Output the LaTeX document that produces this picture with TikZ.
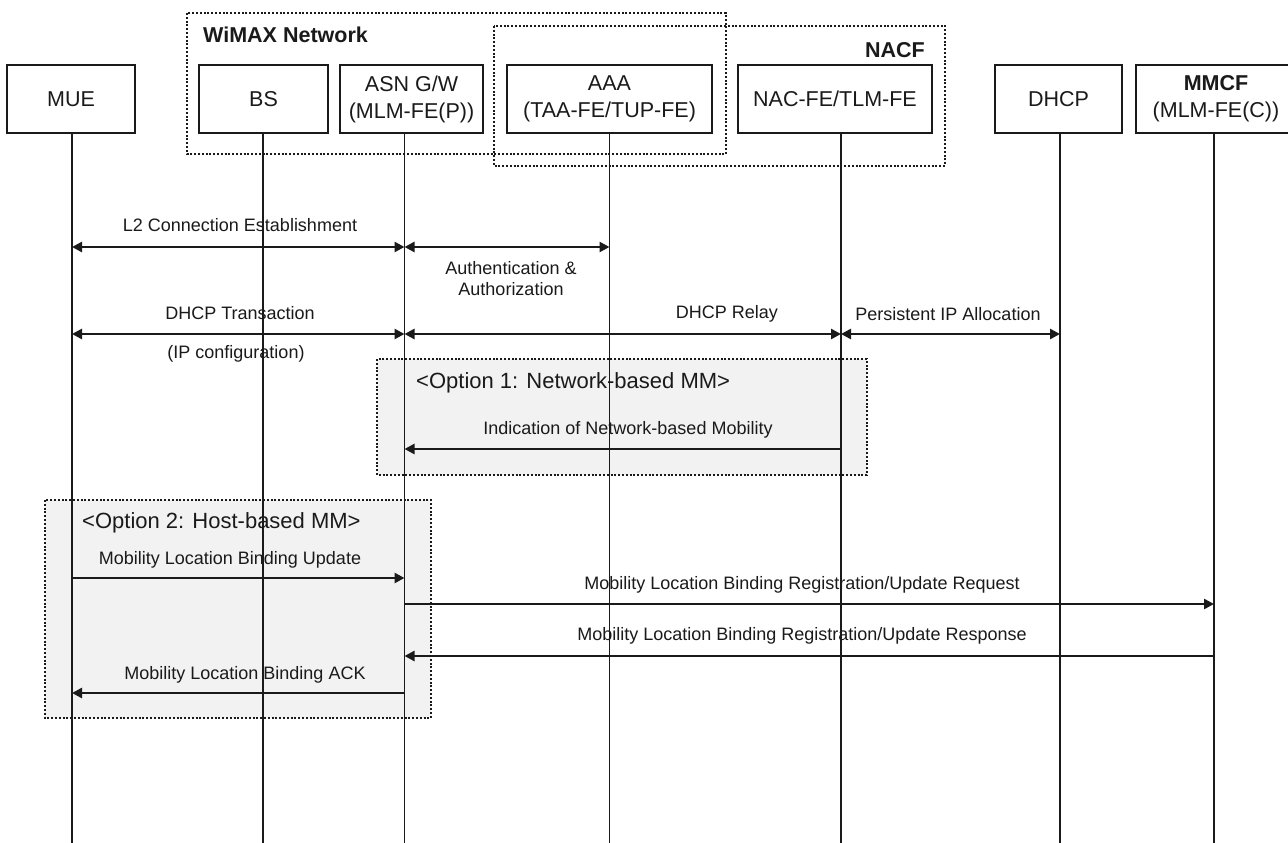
\documentclass[tikz,border=0pt]{standalone}
\usepackage{fontspec}
\setmainfont{Liberation Sans}
\usetikzlibrary{arrows.meta}
\definecolor{ink}{HTML}{1A1A1A}
\definecolor{optgray}{HTML}{F2F2F2}
\begin{document}
\begin{tikzpicture}[x=1pt,y=-1pt,
  every node/.style={text=ink, inner sep=0pt},
  actor/.style={draw=ink, line width=1.5pt, fill=white, minimum height=68pt,
    align=center, font=\fontsize{21.5}{27}\selectfont},
  lifeline/.style={draw=ink, line width=1.4pt},
  msg/.style={draw=ink, line width=2.6pt, -{Triangle[length=10pt,width=10pt]}},
  bimsg/.style={draw=ink, line width=2.6pt,
    {Triangle[length=10pt,width=10pt]}-{Triangle[length=10pt,width=10pt]}},
  msgtext/.style={font=\fontsize{18}{21}\selectfont, align=center},
  netgroup/.style={draw=ink, line width=2.6pt, dash pattern=on 2pt off 1.8pt},
  optbox/.style={netgroup, fill=optgray},
  heading/.style={font=\fontsize{22}{26}\selectfont, anchor=west},
  grouptitle/.style={font=\bfseries\fontsize{21.5}{26}\selectfont},
]
% canvas
\useasboundingbox (0,0) rectangle (1288,843);
\fill[white] (0,0) rectangle (1288,843);
\clip (0,0) rectangle (1288,843);

% shaded option frames (behind the lifelines)
\draw[optbox] (377,359) rectangle (867,475);
\draw[optbox] (45,500) rectangle (431,718);

% network groupings
\draw[netgroup] (187,13) rectangle (726,154);
\draw[netgroup] (494,26) rectangle (945,166);
\node[grouptitle, anchor=west] (wimax) at (203,35) {WiMAX Network};
\node[grouptitle, anchor=east] (nacf) at (925,50) {NACF};

% entities
\node[actor, minimum width=128pt] (mue)  at (71,99)    {MUE};
\node[actor, minimum width=129pt] (bs)   at (263.5,99) {BS};
\node[actor, minimum width=143pt] (asn)  at (411.5,99) {ASN G/W\\(MLM-FE(P))};
\node[actor, minimum width=205pt] (aaa)  at (609.5,99) {AAA\\(TAA-FE/TUP-FE)};
\node[actor, minimum width=194pt] (nac)  at (835,99)   {NAC-FE/TLM-FE};
\node[actor, minimum width=127pt] (dhcp) at (1058.5,99) {DHCP};
\node[actor, minimum width=160pt] (mmcf) at (1216,99)  {\textbf{MMCF}\\(MLM-FE(C))};

% lifeline feet
\coordinate (lMUE)  at (72,843);
\coordinate (lBS)   at (263,843);
\coordinate (lASN)  at (404.5,843);
\coordinate (lAAA)  at (609.5,843);
\coordinate (lNAC)  at (841,843);
\coordinate (lDHCP) at (1060,843);
\coordinate (lMMCF) at (1214,843);

\draw[lifeline] (mue.south -| lMUE) -- (lMUE);
\draw[lifeline] (bs.south -| lBS) -- (lBS);
\draw[lifeline] (asn.south -| lASN) -- (lASN);
\draw[lifeline] (aaa.south -| lAAA) -- (lAAA);
\draw[lifeline] (nac.south -| lNAC) -- (lNAC);
\draw[lifeline] (dhcp.south -| lDHCP) -- (lDHCP);
\draw[lifeline] (mmcf.south -| lMMCF) -- (lMMCF);

% message rows
\coordinate (r1) at (0,247);
\coordinate (r2) at (0,334);
\coordinate (r3) at (0,449);
\coordinate (r4) at (0,578);
\coordinate (r5) at (0,604);
\coordinate (r6) at (0,656);
\coordinate (r7) at (0,693);

% attachment
\draw[bimsg] (lMUE |- r1) -- (lASN |- r1);
\node[msgtext] (t1) at (240,225) {L2 Connection Establishment};
\draw[bimsg] (lASN |- r1) -- (lAAA |- r1);
\node[msgtext] (t2) at (511,279) {Authentication \&\\Authorization};

% address configuration
\draw[bimsg] (lMUE |- r2) -- (lASN |- r2);
\node[msgtext] (t3) at (240,313) {DHCP Transaction};
\node[msgtext] (t4) at (236,354) {(IP configuration)};
\draw[bimsg] (lASN |- r2) -- (lNAC |- r2);
\node[msgtext] (t5) at (727,314) {DHCP Relay};
\draw[bimsg] (lNAC |- r2) -- (lDHCP |- r2);
\node[msgtext] (t6) at (948,314) {Persistent IP Allocation};

% option 1
\node[heading] (h1) at (416,383) {<Option 1: Network-based MM>};
\draw[msg] (lNAC |- r3) -- (lASN |- r3);
\node[msgtext] (t7) at (628,430) {Indication of Network-based Mobility};

% option 2
\node[heading] (h2) at (82,523) {<Option 2: Host-based MM>};
\draw[msg] (lMUE |- r4) -- (lASN |- r4);
\node[msgtext] (t8) at (230,560) {Mobility Location Binding Update};
\draw[msg] (lASN |- r5) -- (lMMCF |- r5);
\node[msgtext] (t9) at (802,585) {Mobility Location Binding Registration/Update Request};
\draw[msg] (lMMCF |- r6) -- (lASN |- r6);
\node[msgtext] (t10) at (802,636) {Mobility Location Binding Registration/Update Response};
\draw[msg] (lASN |- r7) -- (lMUE |- r7);
\node[msgtext] (t11) at (245,675) {Mobility Location Binding ACK};
\end{tikzpicture}
\end{document}
